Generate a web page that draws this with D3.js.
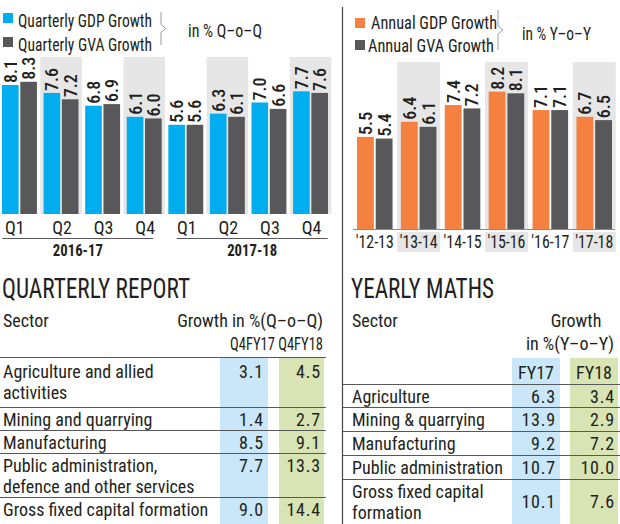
<!DOCTYPE html>
<html><head><meta charset="utf-8">
<script src="https://cdn.jsdelivr.net/npm/d3@7"></script>
<style>
html,body{margin:0;padding:0;background:#fff;}
svg{display:block;}
text{font-family:"Liberation Sans Narrow","Roboto Condensed","DejaVu Sans Condensed","Arial Narrow",sans-serif;fill:#231f20;}
</style></head><body>
<svg id="chart" width="620" height="524"></svg>
<script>
// ---------- data ----------
const quarters = ["Q1","Q2","Q3","Q4","Q1","Q2","Q3","Q4"];
const periods = ["2016-17","2017-18"];
const quarterlyGDP = [8.1,7.6,6.8,6.1,5.6,6.3,7.0,7.7];
const quarterlyGVA = [8.3,7.2,6.9,6.0,5.6,6.1,6.6,7.6];

const years = ["'12-13","'13-14","'14-15","'15-16","'16-17","'17-18"];
const annualGDP = [5.5,6.4,7.4,8.2,7.1,6.7];
const annualGVA = [5.4,6.1,7.2,8.1,7.1,6.5];

const qSectors = [["Agriculture and allied","activities"],["Mining and quarrying"],["Manufacturing"],["Public administration,","defence and other services"],["Gross fixed capital formation"]];
const qFY17 = ["3.1","1.4","8.5","7.7","9.0"];
const qFY18 = ["4.5","2.7","9.1","13.3","14.4"];

const ySectors = [["Agriculture"],["Mining & quarrying"],["Manufacturing"],["Public administration"],["Gross fixed capital","formation"]];
const yFY17 = ["6.3","13.9","9.2","10.7","10.1"];
const yFY18 = ["3.4","2.9","7.2","10.0","7.6"];

// ---------- styles ----------
const C = {blue:"#00aeef", gray:"#58585a", orange:"#f4813f", band:"#e6e6e7",
           tBlue:"#c9e7f8", tGreen:"#d8e4b3", line:"#58585a", text:"#231f20"};

const svg = d3.select("#chart");
svg.append("rect").attr("width",620).attr("height",524).attr("fill","#fff");

function fit(sel, w){
  sel.each(function(){
    this.setAttribute("textLength", w);
    this.setAttribute("lengthAdjust","spacingAndGlyphs");
  });
  return sel;
}
function brace(g, x, y0, y1){
  const m = (y0+y1)/2;
  g.append("path")
    .attr("d",`M${x},${y0} L${x},${m-4} L${x+5},${m} L${x},${m+4} L${x},${y1}`)
    .attr("fill","none").attr("stroke","#9a9a9a").attr("stroke-width",1);
}

// ---------- quarterly chart ----------
const gQ = svg.append("g");
const xq = d3.scaleBand().domain(d3.range(quarters.length)).range([2,328]).paddingInner(0.16).paddingOuter(0);
const xqs = d3.scaleBand().domain(["GDP","GVA"]).range([0,xq.bandwidth()]).paddingInner(0.09);
const yq = d3.scaleLinear().domain([0,10]).range([214,214-159.3]);
const qStep = xq.step();

gQ.selectAll("rect.band").data(d3.range(quarters.length).filter(i=>i%2===1)).join("rect")
  .attr("x",i=>xq(i)-qStep*0.08).attr("width",xq.bandwidth()+qStep*0.16)
  .attr("y",57).attr("height",yq(0)-57).attr("fill",C.band);

const qData = quarters.map((q,i)=>({i, q, GDP:quarterlyGDP[i], GVA:quarterlyGVA[i]}));
const qBars = qData.flatMap(d=>[{i:d.i,k:"GDP",v:d.GDP},{i:d.i,k:"GVA",v:d.GVA}]);
gQ.selectAll("rect.bar").data(qBars).join("rect")
  .attr("x",d=>xq(d.i)+xqs(d.k)).attr("width",xqs.bandwidth())
  .attr("y",d=>yq(d.v)).attr("height",d=>yq(0)-yq(d.v))
  .attr("fill",d=>d.k==="GDP"?C.blue:C.gray);
gQ.selectAll("text.val").data(qBars).join("text")
  .attr("transform",d=>`translate(${xq(d.i)+xqs(d.k)+xqs.bandwidth()/2+6.5},${yq(d.v)-2}) rotate(-90)`)
  .attr("font-size",18).attr("font-weight",500).text(d=>d.v.toFixed(1));
gQ.selectAll("text.q").data(qData).join("text")
  .attr("x",d=>d.i===0?xq(d.i)+3:xq(d.i)+xq.bandwidth()/2+1)
  .attr("text-anchor",d=>d.i===0?"start":"middle")
  .attr("y",234).attr("font-size",18).text(d=>d.q);
periods.forEach((p,k)=>{
  const a = xq(k*4)+xq.bandwidth()/2, b = xq(k*4+3)+xq.bandwidth()/2;
  const c = (a+b)/2 + (k===0?-4:4);
  gQ.append("line").attr("x1",c-75.5).attr("x2",c+75.5).attr("y1",238.5).attr("y2",238.5)
    .attr("stroke",C.line).attr("stroke-width",1);
  fit(gQ.append("text").attr("x",c).attr("y",256).attr("text-anchor","middle")
    .attr("font-size",17).attr("font-weight","bold").text(p), 50);
});
// legend
gQ.append("rect").attr("x",3).attr("y",13).attr("width",10).attr("height",10).attr("fill",C.blue);
gQ.append("rect").attr("x",3).attr("y",37).attr("width",10).attr("height",10).attr("fill",C.gray);
fit(gQ.append("text").attr("x",18).attr("y",26.5).attr("font-size",19).text("Quarterly GDP Growth"),134);
fit(gQ.append("text").attr("x",18).attr("y",50.5).attr("font-size",19).text("Quarterly GVA Growth"),134);
brace(gQ,161,12,45);
fit(gQ.append("text").attr("x",188).attr("y",36.5).attr("font-size",19).text("in % Q–o–Q"),74);

// ---------- annual chart ----------
const gA = svg.append("g");
const xa = d3.scaleBand().domain(d3.range(years.length)).range([357,612]).paddingInner(0.19).paddingOuter(0);
const xas = d3.scaleBand().domain(["GDP","GVA"]).range([0,xa.bandwidth()]).paddingInner(0.1);
const ya = d3.scaleLinear().domain([0,10]).range([229,229-167.5]);
const aStep = xa.step();
const shaded = d3.range(years.length).filter(i=>i%2===1);
gA.selectAll("rect.band").data(shaded).join("rect")
  .attr("x",i=>xa(i)-aStep*0.085).attr("width",xa.bandwidth()+aStep*0.17)
  .attr("y",62).attr("height",ya(0)-62).attr("fill",C.band);
gA.selectAll("rect.lband").data(shaded).join("rect")
  .attr("x",i=>xa(i)-aStep*0.085).attr("width",xa.bandwidth()+aStep*0.17)
  .attr("y",232).attr("height",20).attr("fill",C.band);
const aBars = years.flatMap((y,i)=>[{i,k:"GDP",v:annualGDP[i]},{i,k:"GVA",v:annualGVA[i]}]);
gA.selectAll("rect.bar").data(aBars).join("rect")
  .attr("x",d=>xa(d.i)+xas(d.k)).attr("width",xas.bandwidth())
  .attr("y",d=>ya(d.v)).attr("height",d=>ya(0)-ya(d.v))
  .attr("fill",d=>d.k==="GDP"?C.orange:C.gray);
gA.selectAll("text.val").data(aBars).join("text")
  .attr("transform",d=>`translate(${xa(d.i)+xas(d.k)+xas.bandwidth()/2+6.5},${ya(d.v)-2}) rotate(-90)`)
  .attr("font-size",18).attr("font-weight",500).text(d=>d.v.toFixed(1));
gA.append("line").attr("x1",353).attr("x2",615).attr("y1",229.5).attr("y2",229.5)
  .attr("stroke","#8a8a8a").attr("stroke-width",1);
fit(gA.selectAll("text.yr").data(years).join("text")
  .attr("x",(d,i)=>xa(i)+xa.bandwidth()/2).attr("y",248).attr("text-anchor","middle")
  .attr("font-size",19).text(d=>d), 38);
gA.append("rect").attr("x",355).attr("y",18).attr("width",10).attr("height",10).attr("fill",C.orange);
gA.append("rect").attr("x",355).attr("y",40).attr("width",10).attr("height",10).attr("fill",C.gray);
fit(gA.append("text").attr("x",371).attr("y",28.5).attr("font-size",19).text("Annual GDP Growth"),126);
fit(gA.append("text").attr("x",368).attr("y",51.5).attr("font-size",19).text("Annual GVA Growth"),126);
brace(gA,498,10,50);
fit(gA.append("text").attr("x",522).attr("y",39.5).attr("font-size",19).text("in % Y–o–Y"),69);

// divider
svg.append("line").attr("x1",342.5).attr("x2",342.5).attr("y1",7).attr("y2",524)
  .attr("stroke","#444").attr("stroke-width",1.2);

// ---------- tables ----------
function table(g, opt){
  fit(g.append("text").attr("x",opt.x0+2).attr("y",298).attr("font-size",27).attr("fill","#333").text(opt.title), opt.titleW);
  g.append("text").attr("x",opt.x0+3).attr("y",327).attr("font-size",18).text("Sector");
  g.append("rect").attr("x",opt.colB[0]).attr("width",opt.colB[1]-opt.colB[0])
    .attr("y",opt.colTop).attr("height",524-opt.colTop).attr("fill",C.tBlue);
  g.append("rect").attr("x",opt.colG[0]).attr("width",opt.colG[1]-opt.colG[0])
    .attr("y",opt.colTop).attr("height",524-opt.colTop).attr("fill",C.tGreen);
  g.selectAll("line.row").data(opt.rowTops).join("line")
    .attr("x1",opt.lineX[0]).attr("x2",opt.lineX[1])
    .attr("y1",d=>d+0.5).attr("y2",d=>d+0.5).attr("stroke",C.line).attr("stroke-width",1);
  opt.sectors.forEach((lines,i)=>{
    const top = opt.rowTops[i];
    const off = i===0 && !opt.center ? 21 : 19;
    lines.forEach((ln,j)=>{
      g.append("text").attr("x",opt.x0+3).attr("y",top+off+j*21).attr("font-size",18).text(ln);
    });
    const vy = opt.center && lines.length>1 ? top+29 : top+off;
    g.append("text").attr("x",opt.colB[1]-4).attr("y",vy).attr("text-anchor","end").attr("font-size",18).attr("letter-spacing",0.8).text(opt.v1[i]);
    g.append("text").attr("x",opt.colG[1]-3).attr("y",vy).attr("text-anchor","end").attr("font-size",18).attr("letter-spacing",0.8).text(opt.v2[i]);
  });
}
const gT1 = svg.append("g");
table(gT1,{x0:0,title:"QUARTERLY REPORT",titleW:188,colB:[220,268],colG:[279,324],colTop:357,
  rowTops:[357,407,430,453,497],lineX:[0,326],sectors:qSectors,v1:qFY17,v2:qFY18,center:false});
gT1.append("text").attr("x",323).attr("y",327).attr("text-anchor","end").attr("font-size",18).text("Growth  in %(Q–o–Q)");
fit(gT1.append("text").attr("x",323).attr("y",350).attr("text-anchor","end").attr("font-size",19).text("Q4FY17 Q4FY18"),93);

const gT2 = svg.append("g");
table(gT2,{x0:349,title:"YEARLY MATHS",titleW:143,colB:[512,560],colG:[570,618],colTop:358,
  rowTops:[384,407,431,455,479],lineX:[343,620],sectors:ySectors,v1:yFY17,v2:yFY18,center:true});
gT2.append("text").attr("x",576).attr("y",327).attr("text-anchor","middle").attr("font-size",18).text("Growth");
gT2.append("text").attr("x",570).attr("y",350).attr("text-anchor","middle").attr("font-size",18).text("in %(Y–o–Y)");
gT2.append("text").attr("x",536).attr("y",379).attr("text-anchor","middle").attr("font-size",18).text("FY17");
gT2.append("text").attr("x",594).attr("y",379).attr("text-anchor","middle").attr("font-size",18).text("FY18");
</script>
</body></html>
